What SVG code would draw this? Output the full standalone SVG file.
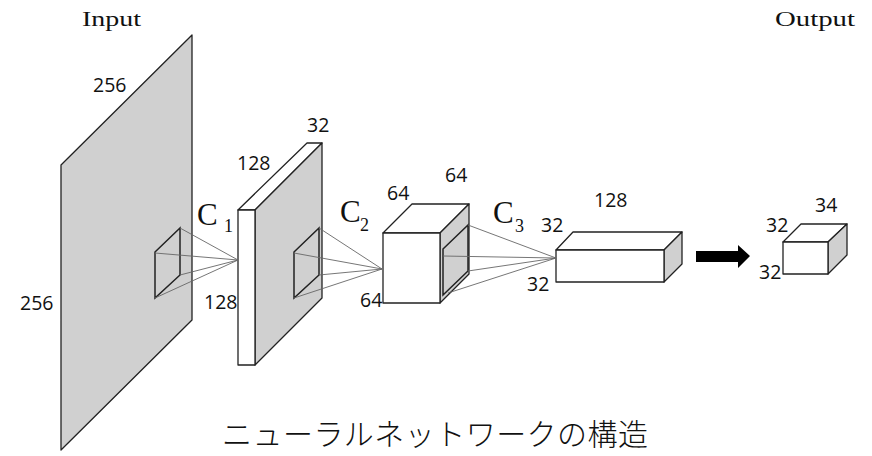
<svg xmlns="http://www.w3.org/2000/svg" width="872" height="456" viewBox="0 0 872 456">
<style>
.face{stroke:#222;stroke-width:1.3;stroke-linejoin:round}
.g{fill:#d0d0d0}
.w{fill:#fff}
.k{fill:none;stroke:#222;stroke-width:1.5}
.conn{stroke:#666;stroke-width:0.9;fill:none}
.num{font-family:"Open Sans","Noto Sans","DejaVu Sans",sans-serif;font-size:19.5px;fill:#111}
.ser{font-family:"Liberation Serif","DejaVu Serif",serif;fill:#111}
.title{font-family:"Noto Sans CJK JP","Noto Sans",sans-serif;font-size:30px;font-weight:300;fill:#111}
</style>
<rect width="872" height="456" fill="#fff"/>

<g id="input">
<polygon class="face g" points="61,165 192,35 192,320 61,450"/>
<polygon class="k" points="155,252 180,228 180,275 155,298"/>
<text class="ser" x="82" y="26" font-size="20" textLength="59" lengthAdjust="spacingAndGlyphs">Input</text>
<text class="num" x="93" y="92">256</text>
<text class="num" x="20" y="310">256</text>
</g>

<g id="layer1">
<polygon class="face w" points="238,210 255,210 322,143 307,143"/>
<polygon class="face g" points="255,210 322,143 322,298 255,365"/>
<rect class="face w" x="238" y="210" width="17" height="155"/>
<polygon class="k" points="294,252 319,228 319,275 294,298"/>
<text class="num" x="307" y="132">32</text>
<text class="num" x="237" y="170">128</text>
<text class="num" x="204" y="309">128</text>
</g>

<g id="layer2">
<polygon class="face w" points="383,233 412,204 469,204 440,233"/>
<polygon class="face g" points="440,233 469,204 469,274 440,303"/>
<rect class="face w" x="383" y="233" width="57" height="70"/>
<polygon class="k" points="443,249 468,225 468,271 443,295" stroke-width="2.2"/>
<text class="num" x="387" y="200">64</text>
<text class="num" x="445" y="182">64</text>
<text class="num" x="360" y="307">64</text>
</g>

<g id="layer3">
<polygon class="face w" points="556,250 573,232 682,232 664,250"/>
<polygon class="face g" points="664,250 682,232 682,264 664,282"/>
<rect class="face w" x="556" y="250" width="108" height="32"/>
<text class="num" x="541" y="232">32</text>
<text class="num" x="594" y="207">128</text>
<text class="num" x="527" y="291">32</text>
</g>

<g id="output">
<polygon class="face w" points="783,242 801,224 847,224 828,242"/>
<polygon class="face g" points="828,242 847,224 847,255 828,274"/>
<rect class="face w" x="783" y="242" width="45" height="32"/>
<text class="ser" x="775" y="26" font-size="20" textLength="80" lengthAdjust="spacingAndGlyphs">Output</text>
<text class="num" x="815" y="212">34</text>
<text class="num" x="766" y="232">32</text>
<text class="num" x="759" y="279">32</text>
</g>

<g id="connectors">
<path class="conn" d="M180,228 L238,260 M155,253 L238,260 M180,275 L238,260 M155,298 L238,260"/>
<path class="conn" d="M319,228 L382,269 M294,253 L382,269 M319,275 L382,269 M294,298 L382,269"/>
<path class="conn" d="M468,225 L556,258 M443,256 L556,258 M468,271 L556,258 M448,293 L556,258"/>
<polygon points="696,251 738,251 738,245 750,256 738,268 738,262 696,262" fill="#000"/>
</g>

<g id="labels">
<text class="ser" x="197" y="225" font-size="31">C</text>
<text class="ser" x="224" y="232" font-size="18">1</text>
<text class="ser" x="340" y="222" font-size="31">C</text>
<text class="ser" x="360" y="231" font-size="18">2</text>
<text class="ser" x="493" y="223" font-size="31">C</text>
<text class="ser" x="515" y="232" font-size="18">3</text>
<text class="title" x="222" y="445" textLength="426">ニューラルネットワークの構造</text>
</g>
</svg>
